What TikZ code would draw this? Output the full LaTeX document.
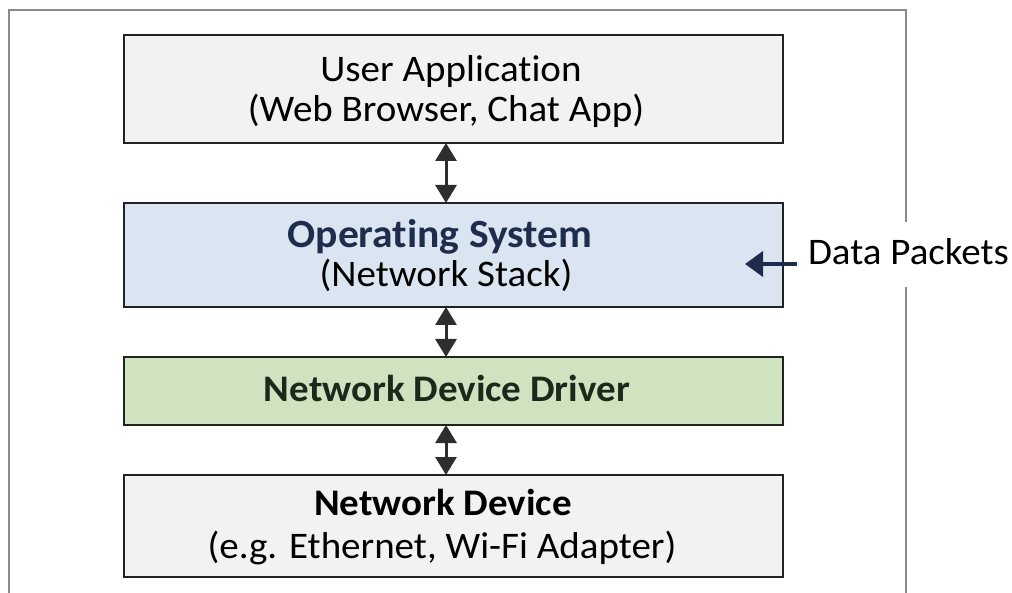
\documentclass[tikz,border=0pt]{standalone}
\usepackage{fontspec}
\setmainfont{Carlito}[FakeStretch=1.04,RawFeature={-liga}]
\usetikzlibrary{arrows.meta}
\definecolor{boxgray}{HTML}{F2F2F2}
\definecolor{boxblue}{HTML}{DAE5F1}
\definecolor{boxgreen}{HTML}{CFE3C1}
\definecolor{navy}{HTML}{1F2D4D}
\definecolor{darkgreen}{HTML}{1A2A1A}
\definecolor{framegray}{HTML}{8A8A8A}
\definecolor{arrowgray}{HTML}{2E2E2E}
\definecolor{borderdark}{HTML}{222222}
\tikzset{
  layer/.style={draw=borderdark, line width=2.6pt, minimum width=659pt, inner sep=0pt, outer sep=0pt},
  lbl/.style={inner sep=0pt, outer sep=0pt, anchor=base, font=\fontsize{37.5}{40}\selectfont},
  bothway/.style={{Triangle[length=18pt,width=21pt]}-{Triangle[length=18pt,width=21pt]}, line width=3pt, draw=arrowgray},
  inarrow/.style={-{Triangle[length=18pt,width=25pt]}, line width=4pt, draw=navy},
  frameline/.style={draw=framegray, line width=2pt}
}
\begin{document}
\begin{tikzpicture}[x=1pt,y=-1pt]
\useasboundingbox (0,0) rectangle (1012,593);
\fill[white] (0,0) rectangle (1012,593);
% outer frame (open at bottom, gap at label)
\draw[frameline] (9,593) -- (9,10) -- (906,10) -- (906,222);
\draw[frameline] (906,287) -- (906,593);
% layers
\node[layer, fill=boxgray, minimum height=108pt] (app) at (453.5,89) {};
\node[layer, fill=boxblue, minimum height=104pt] (os) at (453.5,255) {};
\node[layer, fill=boxgreen, minimum height=68pt] (drv) at (453.5,391) {};
\node[layer, fill=boxgray, minimum height=102pt] (dev) at (453.5,526) {};
% texts
\node[lbl] (appA) at (451,82) {User Application};
\node[lbl] (appB) at (446,122) {(Web Browser, Chat App)};
\node[lbl, font=\fontsize{40}{44}\bfseries\selectfont, text=navy] (osA) at (440,248) {Operating System};
\node[lbl] (osB) at (446,287) {(Network Stack)};
\node[lbl, font=\fontsize{37.5}{40}\bfseries\selectfont, text=darkgreen] (drvA) at (447,402) {Network Device Driver};
\node[lbl, font=\fontsize{37.5}{40}\bfseries\selectfont] (devA) at (443,515) {Network Device};
\node[lbl] (devB) at (442,558) {(e.g. Ethernet, Wi-Fi Adapter)};
% connectors
\draw[bothway] ([xshift=-7.5pt]app.south) -- ([xshift=-7.5pt]os.north);
\draw[bothway] ([xshift=-7.5pt]os.south) -- ([xshift=-7.5pt]drv.north);
\draw[bothway] ([xshift=-7.5pt]drv.south) -- ([xshift=-7.5pt]dev.north);
% data packets
\node[lbl, anchor=base west] (dp) at (808,265) {Data Packets};
\coordinate (dpstart) at (797,264);
\coordinate (dpend) at (745,264);
\draw[inarrow] (dpstart) -- (dpend);
\end{tikzpicture}
\end{document}
